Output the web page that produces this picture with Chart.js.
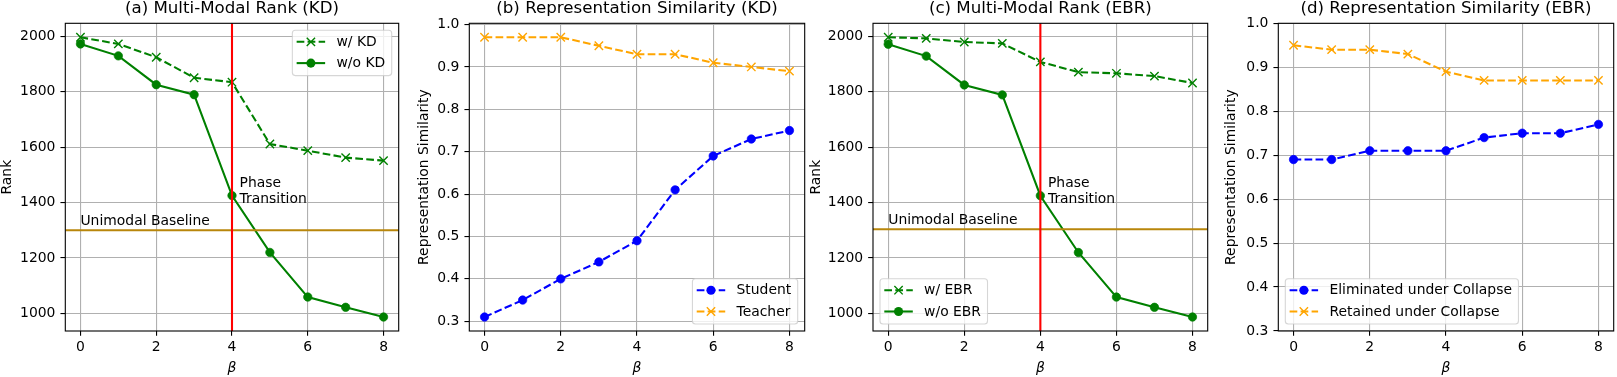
<!DOCTYPE html>
<html><head><meta charset="utf-8">
<script src="https://cdn.jsdelivr.net/npm/chart.js@4.4.1/dist/chart.umd.min.js"></script>
<style>
html,body{margin:0;padding:0;background:#fff;overflow:hidden;width:1617px;height:377px;}
.p{position:absolute;top:0;height:377px;}
canvas{display:block;}
</style></head><body>
<div class="p" id="wa"><canvas id="ca"></canvas></div>
<div class="p" id="wb"><canvas id="cb"></canvas></div>
<div class="p" id="wc"><canvas id="cc"></canvas></div>
<div class="p" id="wd"><canvas id="cd"></canvas></div>
<script>
// ---------------- data ----------------
const betaValues = [0, 1, 2, 3, 4, 5, 6, 7, 8];
const xTickValues = [0, 2, 4, 6, 8];
const rankTickValues = [1000, 1200, 1400, 1600, 1800, 2000];
const simTickValues = [0.3, 0.4, 0.5, 0.6, 0.7, 0.8, 0.9, 1.0];

const rankWithKD     = [1996, 1972, 1924, 1850, 1834, 1611, 1587, 1562, 1551];
const rankWithoutKD  = [1972, 1929, 1825, 1789, 1425, 1220, 1059, 1022, 987];
const rankWithEBR    = [1997, 1993, 1980, 1975, 1908, 1871, 1867, 1857, 1832];
const rankWithoutEBR = [1972, 1929, 1825, 1789, 1425, 1220, 1059, 1022, 987];

const simStudent    = [0.31, 0.35, 0.40, 0.44, 0.49, 0.61, 0.69, 0.73, 0.75];
const simTeacher    = [0.97, 0.97, 0.97, 0.95, 0.93, 0.93, 0.91, 0.90, 0.89];
const simEliminated = [0.69, 0.69, 0.71, 0.71, 0.71, 0.74, 0.75, 0.75, 0.77];
const simRetained   = [0.95, 0.94, 0.94, 0.93, 0.89, 0.87, 0.87, 0.87, 0.87];

const unimodalBaselineKD = 1300;
const unimodalBaselineEBR = 1304;
const phaseTransitionBeta = 4;

const panelTitles = ['(a) Multi-Modal Rank (KD)', '(b) Representation Similarity (KD)',
                     '(c) Multi-Modal Rank (EBR)', '(d) Representation Similarity (EBR)'];

// ---------------- style ----------------
const FONT = '"DejaVu Sans", sans-serif';
const TICK_PX = 13.9, TITLE_PX = 16.67;
const GREEN = '#008000', BLUE = '#0000ff', ORANGE = '#ffa500', RED = '#ff0000', GOLD = '#b8860b';
const DASH = [7.7, 3.3];

function autoRange(values, frac) {
  frac = frac === undefined ? 0.05 : frac;
  const mn = Math.min(...values), mx = Math.max(...values);
  const m = (mx - mn) * frac;
  return [mn - m, mx + m];
}

function lineDataset(label, ys, color, dashed, marker, order) {
  return {
    label: label,
    data: betaValues.map((b, i) => ({x: b, y: ys[i]})),
    borderColor: color, backgroundColor: color, borderWidth: 2.08,
    borderDash: dashed ? DASH : [],
    pointStyle: marker === 'o' ? 'circle' : 'crossRot',
    pointRadius: marker === 'o' ? 4.2 : 5.9,
    pointBorderWidth: marker === 'o' ? 0.7 : 1.4,
    pointBackgroundColor: color, pointBorderColor: color,
    pointHoverRadius: marker === 'o' ? 4.2 : 5.9,
    tension: 0, fill: false, order: order,
    mplMarker: marker, mplDashed: dashed
  };
}

// one plugin: annotations, frame, legend (matplotlib-like)
const mplPlugin = {
  id: 'mpl',
  afterDatasetsDraw(chart, args, opts) {
    const ctx = chart.ctx, a = chart.chartArea, xs = chart.scales.x, ys = chart.scales.y;
    if (opts.hline !== undefined) {
      ctx.save();
      ctx.beginPath(); ctx.rect(a.left, a.top, a.right - a.left, a.bottom - a.top); ctx.clip();
      const y = ys.getPixelForValue(opts.hline);
      ctx.strokeStyle = GOLD; ctx.lineWidth = 2.08;
      ctx.beginPath(); ctx.moveTo(a.left, y); ctx.lineTo(a.right, y); ctx.stroke();
      const x = xs.getPixelForValue(opts.vline);
      ctx.strokeStyle = RED; ctx.lineWidth = 2.08;
      ctx.beginPath(); ctx.moveTo(x, a.top); ctx.lineTo(x, a.bottom); ctx.stroke();
      ctx.restore();
      ctx.save();
      ctx.fillStyle = '#000'; ctx.font = TICK_PX + 'px ' + FONT;
      ctx.textAlign = 'left'; ctx.textBaseline = 'alphabetic';
      ctx.fillText('Unimodal Baseline', xs.getPixelForValue(0), ys.getPixelForValue(opts.hline + 20));
      const px = xs.getPixelForValue(opts.vline + 0.2), py = ys.getPixelForValue(1400);
      ctx.fillText('Phase', px, py - 15.8);
      ctx.fillText('Transition', px, py);
      ctx.restore();
    }
  },
  afterDraw(chart, args, opts) {
    const ctx = chart.ctx, a = chart.chartArea;
    // frame
    ctx.save();
    ctx.strokeStyle = '#000'; ctx.lineWidth = 1.1;
    ctx.strokeRect(a.left, a.top, a.right - a.left, a.bottom - a.top);
    ctx.restore();
    // legend
    if (!opts.loc) return;
    const items = chart.data.datasets;
    ctx.save();
    ctx.font = TICK_PX + 'px ' + FONT;
    const textW = Math.max(...items.map(d => ctx.measureText(d.label).width));
    const leftPad = 4.3, handle = 28.5, gap = 11.3, rightPad = 6.5;
    const w = leftPad + handle + gap + textW + rightPad;
    const h = 45.3, firstRow = 11.5, rowStep = 21.3, pad = 7;
    let bx, by;
    if (opts.loc === 'upper right') { bx = a.right - pad - w; by = a.top + pad; }
    else if (opts.loc === 'lower right') { bx = a.right - pad - w; by = a.bottom - pad - h; }
    else { bx = a.left + pad; by = a.bottom - pad - h; }
    ctx.beginPath();
    ctx.roundRect(bx, by, w, h, 3);
    ctx.fillStyle = 'rgba(255,255,255,0.8)'; ctx.fill();
    ctx.strokeStyle = 'rgba(204,204,204,0.8)'; ctx.lineWidth = 1.1; ctx.stroke();
    items.forEach((d, i) => {
      const cy = by + firstRow + i * rowStep;
      const hx = bx + leftPad;
      ctx.strokeStyle = d.borderColor; ctx.lineWidth = 2.08;
      ctx.setLineDash(d.mplDashed ? DASH : []);
      ctx.beginPath(); ctx.moveTo(hx, cy); ctx.lineTo(hx + handle, cy); ctx.stroke();
      ctx.setLineDash([]);
      const mx = hx + handle / 2;
      if (d.mplMarker === 'o') {
        ctx.fillStyle = d.borderColor;
        ctx.beginPath(); ctx.arc(mx, cy, 4.55, 0, Math.PI * 2); ctx.fill();
      } else {
        ctx.lineWidth = 1.4; const r = 4.17;
        ctx.beginPath();
        ctx.moveTo(mx - r, cy - r); ctx.lineTo(mx + r, cy + r);
        ctx.moveTo(mx + r, cy - r); ctx.lineTo(mx - r, cy + r);
        ctx.stroke();
      }
      ctx.fillStyle = '#000'; ctx.textAlign = 'left'; ctx.textBaseline = 'middle';
      ctx.fillText(d.label, hx + handle + gap, cy + 0.5);
    });
    ctx.restore();
  }
};

function makePanel(id, g, cfg) {
  const canvas = document.getElementById(id);
  canvas.parentElement.style.left = g.left + 'px';
  canvas.width = g.width; canvas.height = 377;
  canvas.style.width = g.width + 'px'; canvas.style.height = '377px';
  const xr = autoRange(betaValues);
  const tickFont = {family: FONT, size: TICK_PX, weight: 'normal'};
  const gridOpts = {color: '#b0b0b0', lineWidth: 1.1, tickLength: 4.86, tickColor: '#000', tickWidth: 1.1, drawTicks: true};
  return new Chart(canvas, {
    type: 'line',
    data: {datasets: cfg.datasets},
    options: {
      responsive: false, animation: false, devicePixelRatio: 1,
      events: [],
      layout: {padding: {left: 0, right: g.padRight, top: 0, bottom: 0}},
      plugins: {
        legend: {display: false}, tooltip: {enabled: false},
        title: {display: true, text: cfg.title, fullSize: false, color: '#000',
                font: {family: FONT, size: TITLE_PX, weight: 'normal', lineHeight: 1.08},
                padding: {top: 0, bottom: 5.3}},
        mpl: cfg.mpl
      },
      scales: {
        x: {
          type: 'linear', position: 'bottom', min: xr[0], max: xr[1],
          afterBuildTicks: s => { s.ticks = xTickValues.map(v => ({value: v})); },
          afterFit: s => { s.height = 46; },
          ticks: {font: tickFont, color: '#000', padding: 2.8, maxRotation: 0, autoSkip: false,
                  callback: v => String(v)},
          grid: gridOpts, border: {display: false},
          title: {display: true, text: 'β', color: '#000',
                  font: {family: FONT, size: TICK_PX, style: 'italic', weight: 'normal', lineHeight: 1.2},
                  padding: {top: 0, bottom: 0.7}}
        },
        y: {
          type: 'linear', position: 'left', min: cfg.yRange[0], max: cfg.yRange[1],
          afterBuildTicks: s => { s.ticks = cfg.yTicks.map(v => ({value: v})); },
          afterFit: s => { s.width = g.yw; },
          ticks: {font: tickFont, color: '#000', padding: 5, autoSkip: false, callback: cfg.yFormat},
          grid: gridOpts, border: {display: false},
          title: {display: true, text: cfg.yLabel, color: '#000',
                  font: {family: FONT, size: TICK_PX, weight: 'normal', lineHeight: 1.0},
                  padding: {top: 0, bottom: 0}}
        }
      }
    },
    plugins: [mplPlugin]
  });
}

const rankFmt = v => String(v);
const simFmt = v => Number(v).toFixed(1);

makePanel('ca', {left: 0, width: 406, padRight: 5.7, yw: 65.3}, {
  title: panelTitles[0], yLabel: 'Rank', yTicks: rankTickValues, yFormat: rankFmt,
  yRange: autoRange([...rankWithKD, ...rankWithoutKD, unimodalBaselineKD]),
  datasets: [lineDataset('w/ KD', rankWithKD, GREEN, true, 'x', 1),
             lineDataset('w/o KD', rankWithoutKD, GREEN, false, 'o', 0)],
  mpl: {loc: 'upper right', hline: unimodalBaselineKD, vline: phaseTransitionBeta}
});
makePanel('cb', {left: 417, width: 395, padRight: 6.3, yw: 52.3}, {
  title: panelTitles[1], yLabel: 'Representation Similarity', yTicks: simTickValues, yFormat: simFmt,
  yRange: autoRange([...simStudent, ...simTeacher]),
  datasets: [lineDataset('Student', simStudent, BLUE, true, 'o', 1),
             lineDataset('Teacher', simTeacher, ORANGE, true, 'x', 0)],
  mpl: {loc: 'lower right'}
});
makePanel('cc', {left: 809, width: 406, padRight: 5.3, yw: 64}, {
  title: panelTitles[2], yLabel: 'Rank', yTicks: rankTickValues, yFormat: rankFmt,
  yRange: autoRange([...rankWithEBR, ...rankWithoutEBR, unimodalBaselineEBR]),
  datasets: [lineDataset('w/ EBR', rankWithEBR, GREEN, true, 'x', 1),
             lineDataset('w/o EBR', rankWithoutEBR, GREEN, false, 'o', 0)],
  mpl: {loc: 'lower left', hline: unimodalBaselineEBR, vline: phaseTransitionBeta}
});
makePanel('cd', {left: 1224, width: 397, padRight: 6.7, yw: 54.3}, {
  title: panelTitles[3], yLabel: 'Representation Similarity', yTicks: simTickValues, yFormat: simFmt,
  yRange: [0.3, 1.0],
  datasets: [lineDataset('Eliminated under Collapse', simEliminated, BLUE, true, 'o', 1),
             lineDataset('Retained under Collapse', simRetained, ORANGE, true, 'x', 0)],
  mpl: {loc: 'lower left'}
});
</script>
</body></html>
